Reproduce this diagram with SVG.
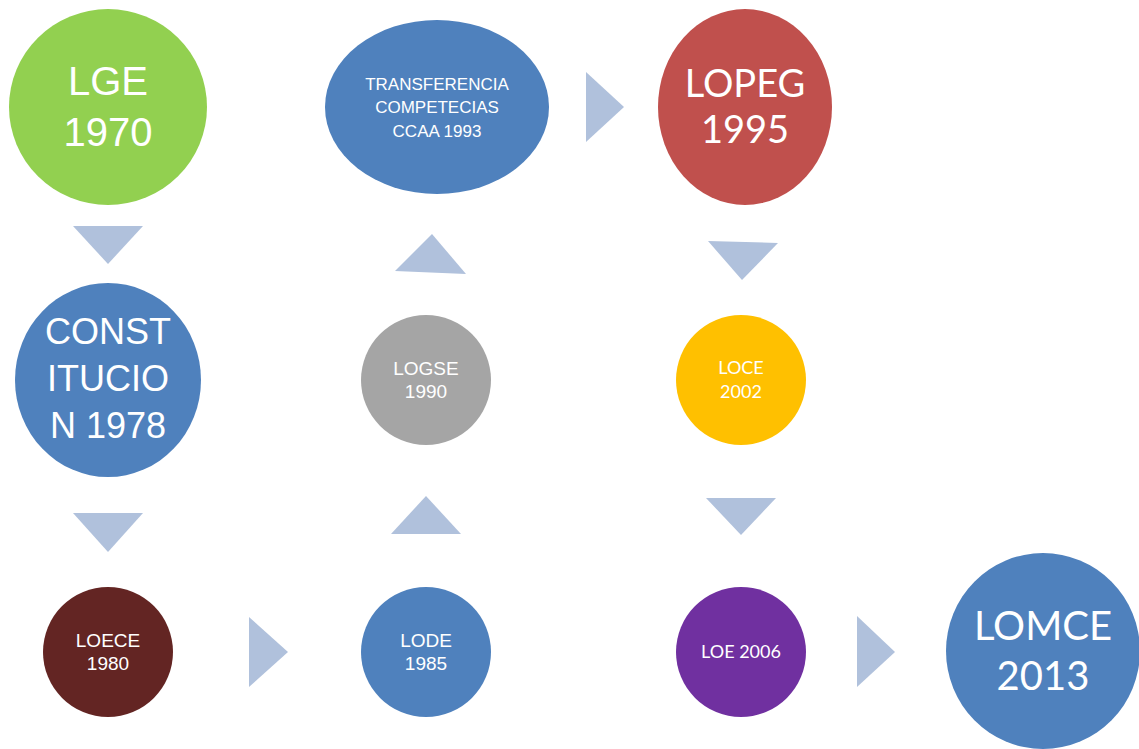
<svg xmlns="http://www.w3.org/2000/svg" width="1139" height="749" viewBox="0 0 1139 749">
<style>
.l{font-family:"Liberation Sans",Arial,sans-serif;fill:#fff;text-anchor:middle}
.r{font-family:Lato,"Open Sans",sans-serif;fill:#fff;text-anchor:middle}
.tri{fill:#B0C1DC}
</style>
<rect width="1139" height="749" fill="#fff"/>
<g id="connectors">
<polygon class="tri" points="73,226 143,226 108,264"/>
<polygon class="tri" points="73,513 143,513 108,552"/>
<polygon class="tri" points="249,617 288,652 249,687"/>
<polygon class="tri" points="391,534 461,534 426,496"/>
<polygon class="tri" points="395,271 466,274 432,234"/>
<polygon class="tri" points="586,72 624,107 586,142"/>
<polygon class="tri" points="708,241 778,243 742,280"/>
<polygon class="tri" points="706,498 776,498 741,535"/>
<polygon class="tri" points="857,616 895,652 857,687"/>
</g>
<g id="lge"><ellipse cx="108" cy="107" rx="99" ry="98" fill="#92D050"/>
<text class="l" font-size="40" x="108" y="95">LGE</text><text class="l" font-size="40" x="108" y="146">1970</text></g>
<g id="constitucion"><ellipse cx="108" cy="380" rx="93" ry="97" fill="#4F81BD"/>
<text class="l" font-size="36" x="108" y="344">CONST</text><text class="l" font-size="36" x="108" y="391">ITUCIO</text><text class="l" font-size="36" x="108" y="438">N 1978</text></g>
<g id="loece"><ellipse cx="108" cy="652" rx="65" ry="65" fill="#632523"/>
<text class="l" font-size="19" x="108" y="647">LOECE</text><text class="l" font-size="19" x="108" y="670">1980</text></g>
<g id="lode"><ellipse cx="426" cy="652" rx="65" ry="65" fill="#4F81BD"/>
<text class="l" font-size="19" x="426" y="647">LODE</text><text class="l" font-size="19" x="426" y="670">1985</text></g>
<g id="logse"><ellipse cx="426" cy="380" rx="65" ry="65" fill="#A5A5A5"/>
<text class="l" font-size="19" x="426" y="375">LOGSE</text><text class="l" font-size="19" x="426" y="398">1990</text></g>
<g id="transferencia"><ellipse cx="437" cy="107" rx="112" ry="87" fill="#4F81BD"/>
<text class="l" font-size="17" x="437" y="90">TRANSFERENCIA</text><text class="l" font-size="17" x="437" y="113">COMPETECIAS</text><text class="l" font-size="17" x="437" y="137">CCAA 1993</text></g>
<g id="lopeg"><ellipse cx="745" cy="107" rx="87" ry="98" fill="#C0504D"/>
<text class="r" font-size="38" x="745" y="97">LOPEG</text><text class="r" font-size="38" x="745" y="143">1995</text></g>
<g id="loce"><ellipse cx="741" cy="380" rx="65" ry="65" fill="#FFC000"/>
<text class="r" font-size="18" x="741" y="374">LOCE</text><text class="r" font-size="18" x="741" y="398">2002</text></g>
<g id="loe"><ellipse cx="741" cy="652" rx="65" ry="65" fill="#7030A0"/>
<text class="r" font-size="18" x="741" y="658">LOE 2006</text></g>
<g id="lomce"><ellipse cx="1043" cy="651" rx="97" ry="98" fill="#4F81BD"/>
<text class="r" font-size="40" x="1043" y="640">LOMCE</text><text class="r" font-size="40" x="1043" y="690">2013</text></g>
</svg>
